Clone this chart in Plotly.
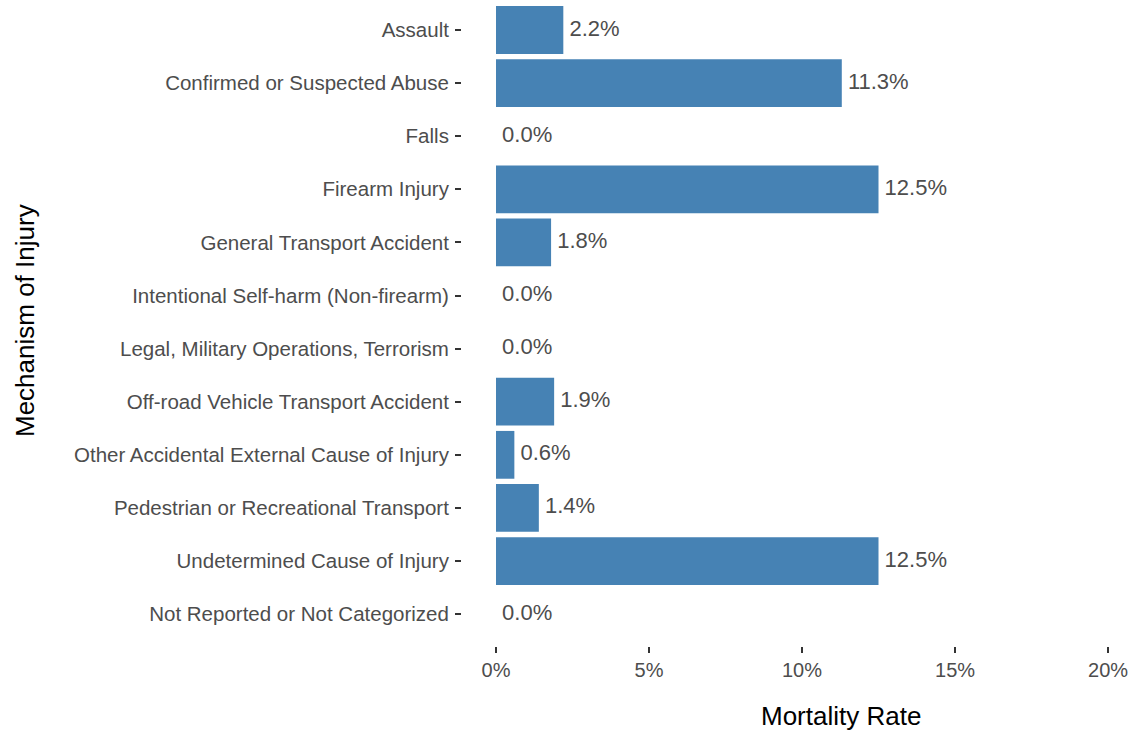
import plotly.graph_objects as go

categories = [
    "Assault",
    "Confirmed or Suspected Abuse",
    "Falls",
    "Firearm Injury",
    "General Transport Accident",
    "Intentional Self-harm (Non-firearm)",
    "Legal, Military Operations, Terrorism",
    "Off-road Vehicle Transport Accident",
    "Other Accidental External Cause of Injury",
    "Pedestrian or Recreational Transport",
    "Undetermined Cause of Injury",
    "Not Reported or Not Categorized",
]
mortality = [2.2, 11.3, 0.0, 12.5, 1.8, 0.0, 0.0, 1.9, 0.6, 1.4, 12.5, 0.0]
x_ticks = [0, 5, 10, 15, 20]
x_tick_labels = ["0%", "5%", "10%", "15%", "20%"]

FONT = "Liberation Sans, Arial, sans-serif"
labels = [f" {v:.1f}%" for v in mortality]

W, H = 1132, 731
ML, MR, MT, MB = 462, 20, 0, 85
pw = W - ML - MR
ph = H - MT - MB

fig = go.Figure()
fig.add_trace(go.Bar(
    y=categories, x=mortality, orientation="h",
    marker=dict(color="#4682B4", line=dict(width=0)),
    width=0.9, hoverinfo="skip", showlegend=False,
))
fig.add_trace(go.Scatter(
    y=categories, x=mortality, mode="text", text=labels,
    textposition="middle right",
    textfont=dict(family=FONT, size=22, color="#4D4D4D"),
    cliponaxis=False, showlegend=False, hoverinfo="skip",
))

fig.update_layout(
    width=W, height=H,
    margin=dict(l=ML, r=MR, t=MT, b=MB, autoexpand=False),
    paper_bgcolor="white", plot_bgcolor="white",
    font=dict(family=FONT),
    bargap=0.1,
    annotations=[
        dict(text="Mortality Rate", xref="paper", yref="paper",
             x=(841 - ML) / pw, y=-(716 - ph) / ph, xanchor="center", yanchor="middle",
             borderpad=0,
             showarrow=False, font=dict(family=FONT, size=26, color="black")),
        dict(text="Mechanism of Injury", textangle=-90, xref="paper", yref="paper",
             x=(25 - ML) / pw, y=1 - (321 / ph), xanchor="center", yanchor="middle",
             borderpad=0,
             showarrow=False, font=dict(family=FONT, size=26, color="black")),
    ],
)

fig.update_xaxes(
    range=[-1.111, 20.13], automargin=False,
    tickvals=x_ticks, ticktext=x_tick_labels,
    ticks="outside", ticklen=6, tickwidth=1.5, tickcolor="#333333",
    tickfont=dict(family=FONT, size=20, color="#4D4D4D"),
    showgrid=False, zeroline=False, showline=False,
)
fig.update_yaxes(
    categoryorder="array", categoryarray=categories,
    range=[11.6, -0.565], automargin=False,
    ticks="outside", ticklen=6, tickwidth=1.5, tickcolor="#333333",
    ticklabelstandoff=2,
    tickfont=dict(family=FONT, size=20.5, color="#4D4D4D"),
    showgrid=False, zeroline=False, showline=False,
)

fig.write_html(
    "out.html",
    config={"displayModeBar": False},
    post_script="document.body.style.margin='0';document.body.style.overflow='hidden';",
)
